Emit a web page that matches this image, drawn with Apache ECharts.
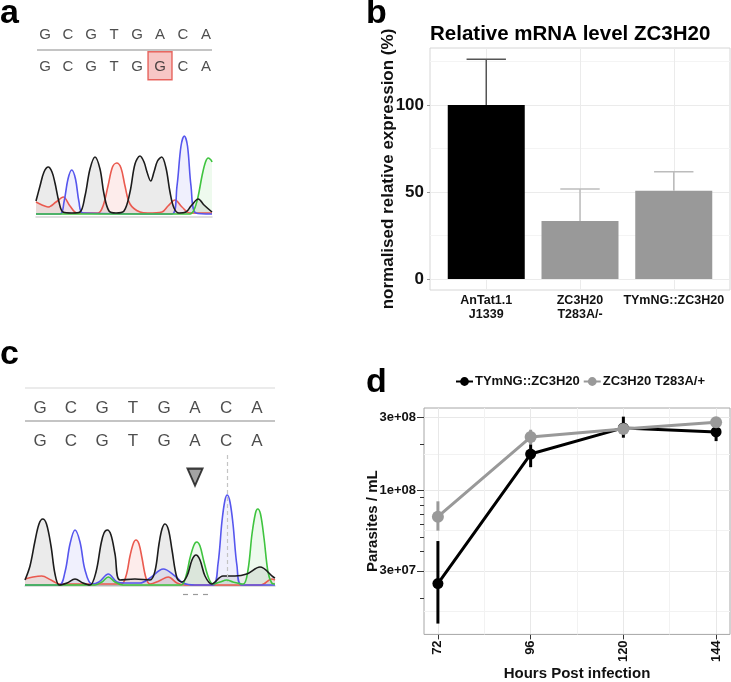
<!DOCTYPE html>
<html>
<head>
<meta charset="utf-8">
<script src="https://cdn.jsdelivr.net/npm/echarts@6/dist/echarts.min.js"></script>
<style>
  html, body { margin: 0; padding: 0; background: #fff; }
  #chart { width: 731px; height: 682px; }
</style>
</head>
<body>
<div id="chart"></div>
<script>
// panel a / c : sequences
const refSeq = ['G', 'C', 'G', 'T', 'G', 'A', 'C', 'A'];
const seqA = ['G', 'C', 'G', 'T', 'G', 'G', 'C', 'A'];
const seqC = ['G', 'C', 'G', 'T', 'G', 'A', 'C', 'A'];
const mutPos = 5;

// chromatogram traces, [scan, signal]
const traceABlack = [[0,13],[4,28],[8,42],[12.3,47],[16,42],[19,31],[23,12],[27,2],[36,1],[44,2],[49,18],[54,45],[59,57],[64,45],[68,20],[73,3],[80,1],[88,3],[94,22],[99,50],[104,58],[108,52],[111,42],[114.7,33],[118,42],[121.5,53],[125.7,57],[130,46],[134,22],[138,6],[143,1],[150,2],[155,8],[162.3,15],[168,9],[176,2]];
const traceABlue = [[0,0],[24,0],[28,12],[32,35],[35.7,44],[39.5,35],[43,12],[47,1],[136,0],[141,28],[145,68],[148.3,78],[151.5,68],[155,28],[160,1],[176,0]];
const traceARed = [[0,12],[6,9],[12,7],[20,12],[27.3,17],[34,8],[41,1],[62,1],[67,8],[72,28],[76.5,47],[80.7,51],[85,46],[89,28],[94,10],[104,2],[112,1],[126,2],[132,8],[139,14],[146,7],[154,1],[176,1]];
const traceAGreen = [[0,0],[154,0],[158,4],[162,17],[166,38],[169.5,52],[172.3,56],[175,54],[176,52]];

const traceCBlack = [[0,6],[5,20],[10,45],[14,62],[17.7,67],[21.5,62],[26,40],[30,12],[34.3,1],[42,3],[50,7],[58,3],[65,1],[71,14],[76,42],[79,53],[82.3,56],[86,51],[90,32],[95,6],[110,7],[125,6],[130,15],[134,42],[137,57],[140,62],[143.5,56],[147,36],[152,8],[156.7,4],[162,10],[167,26],[171,31],[175,26],[180,10],[186.7,2],[198,10],[210,10],[221.7,12],[235,19],[248.3,9],[250,8]];
const traceCBlue = [[0,1],[34,1],[40,14],[45,42],[50,56],[55,44],[60,16],[66.7,2],[74,4],[83.3,12],[92,4],[100,3],[115,3],[125,8],[138.3,17],[150,10],[158,3],[170,1],[188,1],[193,22],[197,65],[200,86],[202.3,91],[205,84],[208,62],[212,20],[216.7,1],[250,1]];
const traceCRed = [[0,7],[8,9],[16.7,10],[26,6],[35,2],[96,2],[101,10],[105,30],[108.5,43],[111,46],[114,42],[117,28],[121,8],[125,2],[134,5],[143.3,9],[152,3],[160,1],[236,1],[246.7,7],[250,6]];
const traceCGreen = [[0,1],[70,1],[77,4],[83.3,9],[90,4],[98,1],[156,1],[161,10],[165,28],[169,41],[171.7,44],[175,40],[179,24],[184,7],[188.3,2],[195,4],[201.7,6],[208,4],[218.3,2],[223,16],[227,52],[230.5,73],[232.7,77],[235.5,72],[239,48],[243,14],[246.7,3],[250,2]];
const calledScan = 202;
const gapScans = [158, 186];

// panel b
const strains = ['AnTat1.1\nJ1339', 'ZC3H20\nT283A/-', 'TYmNG::ZC3H20'];
const expression = [100, 33.3, 50.7];
const expressionErr = [26.3, 18.4, 11];
const exprTicks = [0, 50, 100];
const exprMinor = [25, 75, 125];

// panel d
const hours = [72, 96, 120, 144];
const hoursMinor = [84, 108, 132];
const wtMean = [2.48e7, 1.73e8, 2.56e8, 2.41e8];
const wtLow = [1.36e7, 1.42e8, 2.21e8, 2.1e8];
const wtHigh = [4.69e7, 2.0e8, 3.03e8, 2.62e8];
const mutMean = [6.76e7, 2.23e8, 2.52e8, 2.79e8];
const mutLow = [5.48e7, 2.0e8, 2.4e8, 2.7e8];
const mutHigh = [8.51e7, 2.49e8, 2.65e8, 2.9e8];
const densTicks = [3e7, 1e8, 3e8];
const densLabels = ['3e+07', '1e+08', '3e+08'];
const densMinor = [1.64e7, 5.48e7, 1.73e8];
const logTicks = [2e7, 4e7, 5e7, 6e7, 7e7, 8e7, 9e7, 2e8];

const FONT = '"Liberation Sans", Arial, sans-serif';
const chart = echarts.init(document.getElementById('chart'));

function hidden(gridIndex, min, max, extra) {
  return Object.assign({ type: 'value', gridIndex, min, max, show: false }, extra || {});
}

function trace(data, axis, color, fill) {
  return {
    type: 'line', xAxisIndex: axis, yAxisIndex: axis, data,
    smooth: 0.35, symbol: 'none', silent: true, z: 3,
    lineStyle: { color, width: 1.6 },
    areaStyle: { color: fill }
  };
}

function letters(seq, row) {
  return seq.map((s, i) => [i, row, s]);
}

function rangeBars(xs, lo, hi, color, width, xi, yi) {
  return {
    type: 'custom', xAxisIndex: xi, yAxisIndex: yi, silent: true, z: 4,
    data: xs.map((x, i) => [x, lo[i], hi[i]]),
    renderItem: (params, api) => {
      const a = api.coord([api.value(0), api.value(1)]);
      const b = api.coord([api.value(0), api.value(2)]);
      return { type: 'line', shape: { x1: a[0], y1: a[1], x2: b[0], y2: b[1] },
        style: { stroke: color, lineWidth: width } };
    }
  };
}

function labelFor(v) {
  let best = 0;
  densTicks.forEach((t, i) => { if (Math.abs(Math.log(v / t)) < Math.abs(Math.log(v / densTicks[best]))) best = i; });
  return densLabels[best];
}

const letterStyle = (size) => ({
  show: true, position: 'inside', formatter: p => p.data[2],
  fontFamily: FONT, fontSize: size, color: '#222'
});

const option = {
  animation: false,
  textStyle: { fontFamily: FONT },
  graphic: [
    { type: 'text', x: 0, y: 14, style: { text: 'a', font: 'bold 34px ' + FONT, fill: '#000', verticalAlign: 'middle' } },
    { type: 'text', x: 366, y: 14, style: { text: 'b', font: 'bold 34px ' + FONT, fill: '#000', verticalAlign: 'middle' } },
    { type: 'text', x: 0, y: 355, style: { text: 'c', font: 'bold 34px ' + FONT, fill: '#000', verticalAlign: 'middle' } },
    { type: 'text', x: 366, y: 383, style: { text: 'd', font: 'bold 34px ' + FONT, fill: '#000', verticalAlign: 'middle' } },
    { type: 'text', x: 430, y: 34, style: { text: 'Relative mRNA level ZC3H20', font: 'bold 20.5px ' + FONT, fill: '#000', verticalAlign: 'middle' } }
  ],
  legend: {
    data: ['TYmNG::ZC3H20', 'ZC3H20 T283A/+'],
    left: 450, top: 370, itemWidth: 17, itemHeight: 11, itemGap: 3,
    textStyle: { fontWeight: 'bold', fontSize: 13, color: '#111', padding: [0, 0, 0, -3] }
  },
  grid: [
    { left: 37, top: 19, width: 175, height: 64 },
    { left: 36, top: 124, width: 176, height: 92.5 },
    { left: 430, top: 48, width: 300, height: 242, show: true, borderColor: '#d6d6d6', borderWidth: 1 },
    { left: 25, top: 374.3, width: 250, height: 118 },
    { left: 25, top: 455, width: 250, height: 141 },
    { left: 424, top: 408, width: 306, height: 231, show: true, borderColor: '#a6a6a6', borderWidth: 1 }
  ],
  xAxis: [
    hidden(0, -0.348, 7.26),
    { type: 'value', gridIndex: 1, min: 0, max: 176,
      axisLine: { show: true, onZero: false, lineStyle: { color: '#d4d4d4', width: 1.5 } },
      axisTick: { show: false }, axisLabel: { show: false }, splitLine: { show: false } },
    { type: 'value', gridIndex: 2, min: 0.4, max: 3.6,
      axisLine: { show: false },
      axisTick: { show: true, customValues: [1, 2, 3], length: 3, lineStyle: { color: '#999' } },
      axisLabel: { customValues: [1, 2, 3], formatter: v => strains[Math.round(v) - 1],
        fontWeight: 'bold', fontSize: 12.5, color: '#111', lineHeight: 14, margin: 4 },
      splitLine: { show: false } },
    hidden(3, -0.484, 7.58),
    { type: 'value', gridIndex: 4, min: 0, max: 250,
      axisLine: { show: true, onZero: true, lineStyle: { color: '#d4d4d4', width: 1.5 } },
      axisTick: { show: false }, axisLabel: { show: false }, splitLine: { show: false } },
    { type: 'value', gridIndex: 5, min: 68.4, max: 147.6, position: 'bottom',
      axisLine: { show: false },
      axisTick: { show: true, customValues: hours, length: 5, lineStyle: { color: '#333' } },
      axisLabel: { customValues: hours, rotate: 90, fontWeight: 'bold', fontSize: 13, color: '#111', margin: 6 },
      splitLine: { show: false },
      name: 'Hours Post infection', nameLocation: 'middle', nameGap: 27,
      nameTextStyle: { fontWeight: 'bold', fontSize: 15, color: '#111' } }
  ],
  yAxis: [
    hidden(0, -0.5, 1.5, { inverse: true }),
    hidden(1, -2.5, 90),
    { type: 'value', gridIndex: 2, min: -6.3, max: 132.8,
      axisLine: { show: false },
      axisTick: { show: true, customValues: exprTicks, length: 3, lineStyle: { color: '#999' } },
      axisLabel: { customValues: exprTicks, fontWeight: 'bold', fontSize: 17, color: '#111', margin: 6 },
      splitLine: { show: false },
      name: 'normalised relative expression (%)', nameLocation: 'middle', nameGap: 33, nameMoveOverlap: false,
      nameTextStyle: { fontWeight: 'bold', fontSize: 17, color: '#111' } },
    hidden(3, -1, 2.5, { inverse: true }),
    hidden(4, -10, 131),
    { type: 'log', logBase: 10, gridIndex: 5, min: 1.156e7, max: 3.45e8, position: 'left',
      axisLine: { show: false },
      axisTick: { show: true, customValues: densTicks, length: 7, lineStyle: { color: '#333' } },
      axisLabel: { customValues: densTicks, formatter: labelFor, fontWeight: 'bold', fontSize: 13, color: '#111', margin: 8 },
      splitLine: { show: false },
      name: 'Parasites / mL', nameLocation: 'middle', nameGap: 44, nameMoveOverlap: false,
      nameTextStyle: { fontWeight: 'bold', fontSize: 15, color: '#111' } },
    { type: 'log', logBase: 10, gridIndex: 5, min: 1.156e7, max: 3.45e8, position: 'left',
      axisLine: { show: false },
      axisTick: { show: true, customValues: logTicks, length: 4, lineStyle: { color: '#333' } },
      axisLabel: { show: false }, splitLine: { show: false } }
  ],
  series: [
    // panel a: base calls
    { type: 'scatter', xAxisIndex: 0, yAxisIndex: 0, silent: true, z: 2,
      data: [[mutPos, 0.96]], symbol: 'rect', symbolSize: [24, 28],
      itemStyle: { color: '#f5b8b6', borderColor: '#e2453d', borderWidth: 1.5 } },
    { type: 'scatter', xAxisIndex: 0, yAxisIndex: 0, silent: true, z: 3,
      data: letters(refSeq, 0).concat(letters(seqA, 1)),
      symbolSize: 1, itemStyle: { color: 'rgba(0,0,0,0)' }, label: letterStyle(15),
      markLine: { silent: true, symbol: 'none', label: { show: false },
        lineStyle: { color: '#c4c4c4', width: 2, type: 'solid' }, data: [{ yAxis: 0.45 }] } },
    trace(traceARed, 1, '#ea5a4f', 'rgba(234,90,79,0.16)'),
    trace(traceABlue, 1, '#5656ee', 'rgba(86,86,238,0.13)'),
    trace(traceAGreen, 1, '#3fc43f', 'rgba(63,196,63,0.13)'),
    trace(traceABlack, 1, '#1c1c1c', 'rgba(0,0,0,0.11)'),

    // panel b
    { type: 'bar', xAxisIndex: 2, yAxisIndex: 2, silent: true, barWidth: 77, z: 2,
      data: expression.map((v, i) => ({ value: [i + 1, v], itemStyle: { color: i === 0 ? '#000' : '#999' } })),
      markLine: { silent: true, symbol: 'none', z: 1, label: { show: false },
        lineStyle: { color: '#ebebeb', width: 1, type: 'solid' },
        data: exprTicks.map(v => ({ yAxis: v }))
          .concat(exprMinor.map(v => ({ yAxis: v, lineStyle: { color: '#f4f4f4', width: 1, type: 'solid' } })))
          .concat(strains.map((s, i) => ({ xAxis: i + 1 }))) } },
    { type: 'custom', xAxisIndex: 2, yAxisIndex: 2, silent: true, z: 3,
      data: expression.map((v, i) => [i + 1, v, v + expressionErr[i]]),
      renderItem: (params, api) => {
        const lo = api.coord([api.value(0), api.value(1)]);
        const hi = api.coord([api.value(0), api.value(2)]);
        const half = api.size([0.42, 0])[0] / 2;
        const stroke = params.dataIndex === 0 ? '#555' : '#bcbcbc';
        return { type: 'group', children: [
          { type: 'line', shape: { x1: lo[0], y1: lo[1], x2: hi[0], y2: hi[1] }, style: { stroke, lineWidth: 1.5 } },
          { type: 'line', shape: { x1: hi[0] - half, y1: hi[1], x2: hi[0] + half, y2: hi[1] }, style: { stroke, lineWidth: 1.5 } }
        ] };
      } },

    // panel c
    { type: 'scatter', xAxisIndex: 3, yAxisIndex: 3, silent: true, z: 3,
      data: letters(refSeq, 0).concat(letters(seqC, 1)),
      symbolSize: 1, itemStyle: { color: 'rgba(0,0,0,0)' }, label: letterStyle(17),
      markLine: { silent: true, symbol: 'none', label: { show: false },
        lineStyle: { color: '#c4c4c4', width: 2, type: 'solid' },
        data: [{ yAxis: -0.61, lineStyle: { color: '#e4e4e4', width: 1.5, type: 'solid' } }, { yAxis: 0.38 }] } },
    { type: 'scatter', xAxisIndex: 3, yAxisIndex: 3, silent: true, z: 3,
      data: [[mutPos, 2.05]], symbol: 'triangle', symbolRotate: 180, symbolSize: [15, 17],
      itemStyle: { color: '#8c8c8c', borderColor: '#111', borderWidth: 2 } },
    trace(traceCRed, 4, '#ea5a4f', 'rgba(234,90,79,0.16)'),
    Object.assign(trace(traceCBlue, 4, '#5656ee', 'rgba(86,86,238,0.13)'), {
      markLine: { silent: true, symbol: 'none', label: { show: false },
        data: [
          [{ coord: [calledScan, 131], lineStyle: { color: '#c4c4c4', width: 1.2, type: [4, 3] } }, { coord: [calledScan, 4] }],
          [{ coord: [gapScans[0], -8], lineStyle: { color: '#9a9a9a', width: 1.2, type: [5, 5] } }, { coord: [gapScans[1], -8] }]
        ] } }),
    trace(traceCGreen, 4, '#3fc43f', 'rgba(63,196,63,0.13)'),
    trace(traceCBlack, 4, '#1c1c1c', 'rgba(0,0,0,0.11)'),

    // panel d
    { type: 'line', xAxisIndex: 5, yAxisIndex: 5, data: [], silent: true,
      markLine: { silent: true, symbol: 'none', z: 1, label: { show: false },
        lineStyle: { color: '#e8e8e8', width: 1, type: 'solid' },
        data: densTicks.map(v => ({ yAxis: v }))
          .concat(densMinor.map(v => ({ yAxis: v, lineStyle: { color: '#f2f2f2', width: 1, type: 'solid' } })))
          .concat(hours.map(h => ({ xAxis: h })))
          .concat(hoursMinor.map(h => ({ xAxis: h, lineStyle: { color: '#f2f2f2', width: 1, type: 'solid' } }))) } },
    rangeBars(hours, wtLow, wtHigh, '#000', 3, 5, 5),
    { type: 'line', name: 'TYmNG::ZC3H20', xAxisIndex: 5, yAxisIndex: 5, silent: true, z: 4,
      data: hours.map((h, i) => [h, wtMean[i]]), symbol: 'circle', symbolSize: 11,
      lineStyle: { color: '#000', width: 3 }, itemStyle: { color: '#000' } },
    rangeBars(hours, mutLow, mutHigh, '#999', 3, 5, 5),
    { type: 'line', name: 'ZC3H20 T283A/+', xAxisIndex: 5, yAxisIndex: 5, silent: true, z: 4,
      data: hours.map((h, i) => [h, mutMean[i]]), symbol: 'circle', symbolSize: 12,
      lineStyle: { color: '#999', width: 3 }, itemStyle: { color: '#999' } }
  ]
};

chart.setOption(option);
</script>
</body>
</html>
